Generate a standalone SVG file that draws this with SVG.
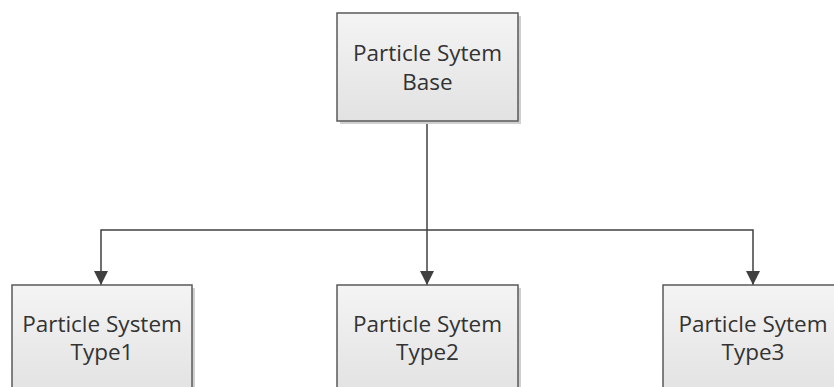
<svg xmlns="http://www.w3.org/2000/svg" width="834" height="387" viewBox="0 0 834 387">
<defs>
<linearGradient id="g" x1="0" y1="0" x2="0" y2="1">
<stop offset="0" stop-color="#f4f4f4"/>
<stop offset="1" stop-color="#e2e2e2"/>
</linearGradient>
<marker id="arr" markerWidth="14" markerHeight="16" refX="14" refY="7" orient="auto" markerUnits="userSpaceOnUse" viewBox="0 0 14 14">
<path d="M0,0 L14,7 L0,14 z" fill="#404040"/>
</marker>
</defs>
<style>
.shadow{fill:#d0d0d0}
.box{fill:url(#g);stroke:#5a5a5a;stroke-width:1.5}
.t{font-family:"Open Sans","Liberation Sans",sans-serif;font-size:22.5px;fill:#333;text-anchor:middle}
.c{fill:none;stroke:#404040;stroke-width:1.5}
</style>
<rect width="834" height="387" fill="#fff"/>
<g id="connectors">
<line class="c" x1="427" y1="121" x2="427" y2="285" marker-end="url(#arr)"/>
<polyline class="c" points="427,230 101,230 101,285" marker-end="url(#arr)"/>
<polyline class="c" points="427,230 753,230 753,285" marker-end="url(#arr)"/>
</g>
<g id="base">
<rect class="shadow" x="340" y="16" width="181" height="108"/>
<rect class="box" x="337" y="13" width="181" height="108"/>
<text class="t" x="427.5" y="61">Particle Sytem</text>
<text class="t" x="427.5" y="90">Base</text>
</g>
<g id="type1">
<rect class="shadow" x="15" y="288" width="180" height="110"/>
<rect class="box" x="12" y="285" width="180" height="110"/>
<text class="t" x="102" y="332">Particle System</text>
<text class="t" x="102" y="360">Type1</text>
</g>
<g id="type2">
<rect class="shadow" x="340" y="288" width="181" height="110"/>
<rect class="box" x="337" y="285" width="181" height="110"/>
<text class="t" x="427.5" y="332">Particle Sytem</text>
<text class="t" x="427.5" y="360">Type2</text>
</g>
<g id="type3">
<rect class="shadow" x="666" y="288" width="181" height="110"/>
<rect class="box" x="663" y="285" width="181" height="110"/>
<text class="t" x="753" y="332">Particle Sytem</text>
<text class="t" x="753" y="360">Type3</text>
</g>
</svg>
